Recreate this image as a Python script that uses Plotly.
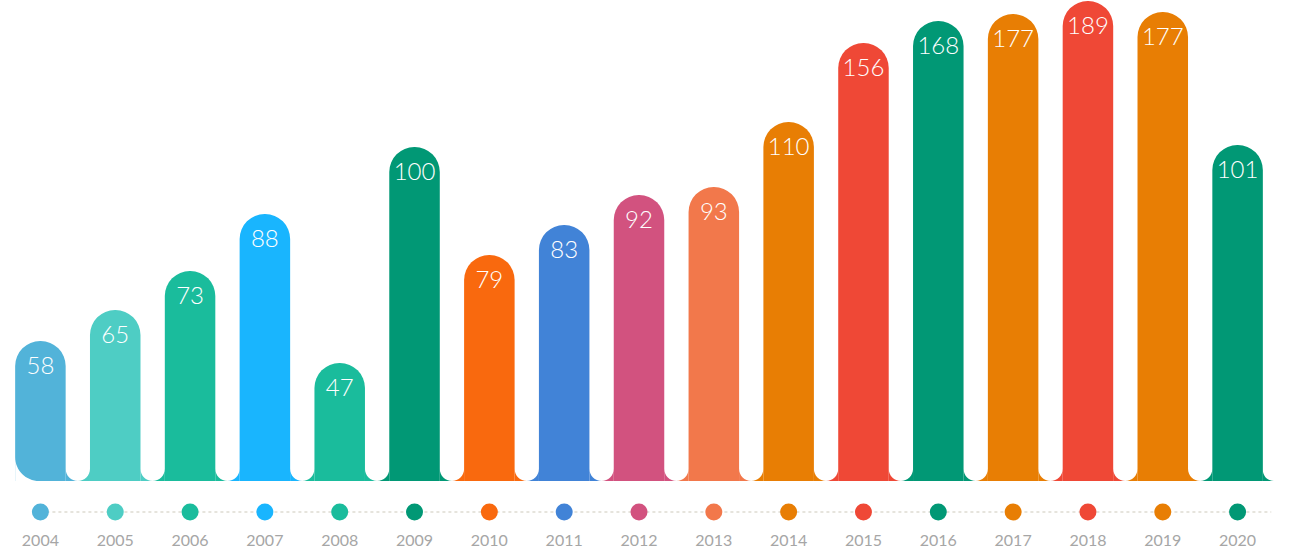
import plotly.graph_objects as go

# ---- data ----
years = ["2004", "2005", "2006", "2007", "2008", "2009", "2010", "2011", "2012",
         "2013", "2014", "2015", "2016", "2017", "2018", "2019", "2020"]
values = [58, 65, 73, 88, 47, 100, 79, 83, 92, 93, 110, 156, 168, 177, 189, 177, 101]
# the infographic's bar heights are not proportional to the labels
bar_heights = [140, 171, 210, 267, 118, 334, 226, 256, 286, 294, 359, 438, 460, 467, 480, 469, 336]
colors = ["#52b3d9", "#4ecdc4", "#1abc9c", "#19b5fe", "#1abc9c", "#019875", "#f9690e",
          "#4183d7", "#d2527f", "#f2784b", "#e87e04", "#ef4836", "#019875", "#e87e04",
          "#ef4836", "#e87e04", "#019875"]

BARGAP = 0.325
HALF = (1 - BARGAP) / 2
K = 0.5523
FONT = "Lato"
LABEL_DROP = 27  # value label sits this far (in y units = px) below the bar top


def corner_path(r, sign=1):
    """concave quarter-round corner region, pixel units relative to anchor"""
    a = sign * r
    c = sign * (r - K * r)
    return f"M0,0 L{a},0 C{c},0 0,{r - K * r} 0,{r} Z"


fig = go.Figure()

fig.add_trace(go.Bar(
    x=years, y=bar_heights,
    marker=dict(color=colors, line=dict(width=0), cornerradius="50%"),
    hoverinfo="skip", showlegend=False,
))

# value labels near the top of each bar
fig.add_trace(go.Scatter(
    x=years, y=[h - LABEL_DROP for h in bar_heights], mode="text",
    text=[str(v) for v in values], textposition="middle center",
    textfont=dict(family=FONT, size=24, color="white", weight=300),
    cliponaxis=False, hoverinfo="skip", showlegend=False,
))

# dots row
fig.add_trace(go.Scatter(
    x=years, y=[43] * len(years), yaxis="y2", mode="markers",
    marker=dict(color=colors, size=17, line=dict(width=0)),
    hoverinfo="skip", showlegend=False,
))
# year labels
fig.add_trace(go.Scatter(
    x=years, y=[13] * len(years), yaxis="y2", mode="text",
    text=years, textfont=dict(family=FONT, size=16, color="#a6a6a6"),
    cliponaxis=False, hoverinfo="skip", showlegend=False,
))

shapes = []
n = len(years)
r_gap = 12.3
# fillets at the bottom of every gap (U-shaped slot)
for i in range(n - 1):
    shapes.append(dict(type="path", xref="x", yref="y", xsizemode="pixel", ysizemode="pixel",
                       xanchor=i + HALF, yanchor=0, path=corner_path(r_gap, 1),
                       fillcolor=colors[i], line=dict(width=0), layer="below"))
    shapes.append(dict(type="path", xref="x", yref="y", xsizemode="pixel", ysizemode="pixel",
                       xanchor=i + 1 - HALF, yanchor=0, path=corner_path(r_gap, -1),
                       fillcolor=colors[i + 1], line=dict(width=0), layer="below"))
# flare on the right side of the last bar
shapes.append(dict(type="path", xref="x", yref="y", xsizemode="pixel", ysizemode="pixel",
                   xanchor=n - 1 + HALF, yanchor=0, path=corner_path(11, 1),
                   fillcolor=colors[-1], line=dict(width=0), layer="below"))
# rounded bottom-left corner of the first bar
shapes.append(dict(type="path", xref="x", yref="y", xsizemode="pixel", ysizemode="pixel",
                   xanchor=-HALF, yanchor=0, path=corner_path(24, 1),
                   fillcolor="white", line=dict(width=0), layer="above"))
# dashed connector line
shapes.append(dict(type="line", xref="x", yref="y2", x0=0, x1=n - 1 + 0.45, y0=43, y1=43,
                   line=dict(color="#cdc9bb", width=1, dash="3px,3px"), layer="below"))

fig.update_layout(
    width=1300, height=555,
    margin=dict(l=3, r=25, t=0, b=0),
    paper_bgcolor="white", plot_bgcolor="white",
    bargap=BARGAP,
    shapes=shapes,
    xaxis=dict(type="category", range=[-0.5, n - 0.5], showgrid=False, zeroline=False,
               showticklabels=False, showline=False, fixedrange=True),
    yaxis=dict(domain=[74 / 555, 1], range=[0, 481], showgrid=False, zeroline=False,
               showticklabels=False, showline=False, fixedrange=True),
    yaxis2=dict(domain=[0, 74 / 555], range=[0, 74], anchor="x", showgrid=False,
                zeroline=False, showticklabels=False, showline=False, fixedrange=True),
    showlegend=False,
)

fig.write_html(
    "out.html",
    config={"displayModeBar": False},
    post_script="document.body.style.margin='0';document.body.style.overflow='hidden';",
)
